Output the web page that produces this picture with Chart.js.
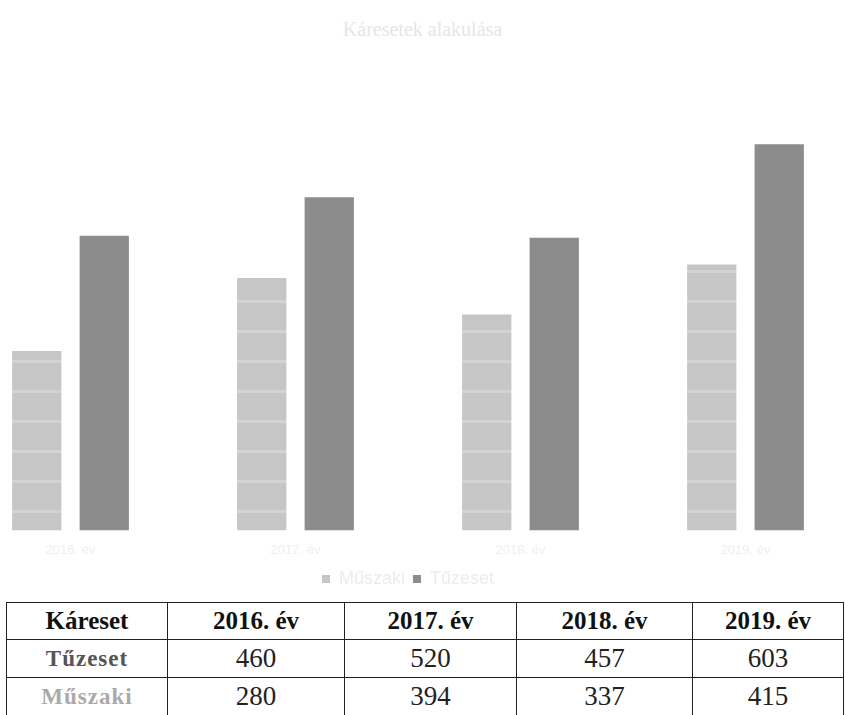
<!DOCTYPE html>
<html>
<head>
<meta charset="utf-8">
<script src="https://cdn.jsdelivr.net/npm/chart.js@4/dist/chart.umd.min.js"></script>
<style>
    body { margin: 0; background: #fff; width: 845px; height: 715px; overflow: hidden; position: relative; }
    #title { position: absolute; top: 18px; left: 0; width: 845px; text-align: center; font: 20px "Liberation Serif"; color: #e6e6e6; }
    #chartBox { position: absolute; left: -42px; top: 0; width: 900px; height: 598px; }
    table { position: absolute; left: 6px; top: 602px; border-collapse: collapse; font-family: "Liberation Serif"; }
    td, th { border: 1.5px solid #222; text-align: center; padding: 0; }
    th { font-size: 25px; font-weight: bold; height: 36px; color: #111; }
    td { font-size: 27px; height: 37px; color: #222; }
    td.label { font-weight: bold; font-size: 23px; letter-spacing: 1px; }
</style>
</head>
<body>
<div id="title">Káresetek alakulása</div>
<div id="chartBox"><canvas id="chart"></canvas></div>
<table id="dataTable"></table>
<script>
const years = ['2016. év', '2017. év', '2018. év', '2019. év'];
const fireCases = [460, 520, 457, 603];
const technicalCases = [280, 394, 337, 415];
const colWidths = [160, 176, 171, 175, 150];

// table under the chart
const table = document.getElementById('dataTable');
let html = '<tr><th style="width:' + colWidths[0] + 'px">Káreset</th>';
years.forEach((y, i) => html += '<th style="width:' + colWidths[i + 1] + 'px">' + y + '</th>');
html += '</tr><tr><td class="label" style="color:#555">Tűzeset</td>';
fireCases.forEach(v => html += '<td>' + v + '</td>');
html += '</tr><tr><td class="label" style="color:#aaa">Műszaki</td>';
technicalCases.forEach(v => html += '<td>' + v + '</td>');
html += '</tr>';
table.innerHTML = html;

// light bars look a bit banded in the scan
function stripePattern() {
    const c = document.createElement('canvas');
    c.width = 8;
    c.height = 30;
    const ctx = c.getContext('2d');
    ctx.fillStyle = '#c6c6c6';
    ctx.fillRect(0, 0, 8, 30);
    ctx.fillStyle = '#d3d3d3';
    ctx.fillRect(0, 0, 8, 3);
    return ctx.createPattern(c, 'repeat');
}

new Chart(document.getElementById('chart'), {
    type: 'bar',
    data: {
        labels: years,
        datasets: [{
            label: 'Műszaki',
            data: technicalCases,
            backgroundColor: stripePattern()
        }, {
            label: 'Tűzeset',
            data: fireCases,
            backgroundColor: '#8c8c8c'
        }]
    },
    options: {
        responsive: true,
        maintainAspectRatio: false,
        animation: false,
        categoryPercentage: 0.6,
        barPercentage: 0.73,
        layout: { padding: { top: 82, bottom: 0 } },
        plugins: {
            legend: {
                position: 'bottom',
                labels: { boxWidth: 8, boxHeight: 8, color: '#ececec', font: { size: 18 }, padding: 8 }
            },
            tooltip: { enabled: false }
        },
        scales: {
            x: {
                grid: { display: false },
                border: { display: false },
                ticks: { color: '#eeeeee', font: { size: 13 }, padding: 4 }
            },
            y: {
                display: false,
                min: 0,
                max: 700
            }
        }
    }
});
</script>
</body>
</html>
